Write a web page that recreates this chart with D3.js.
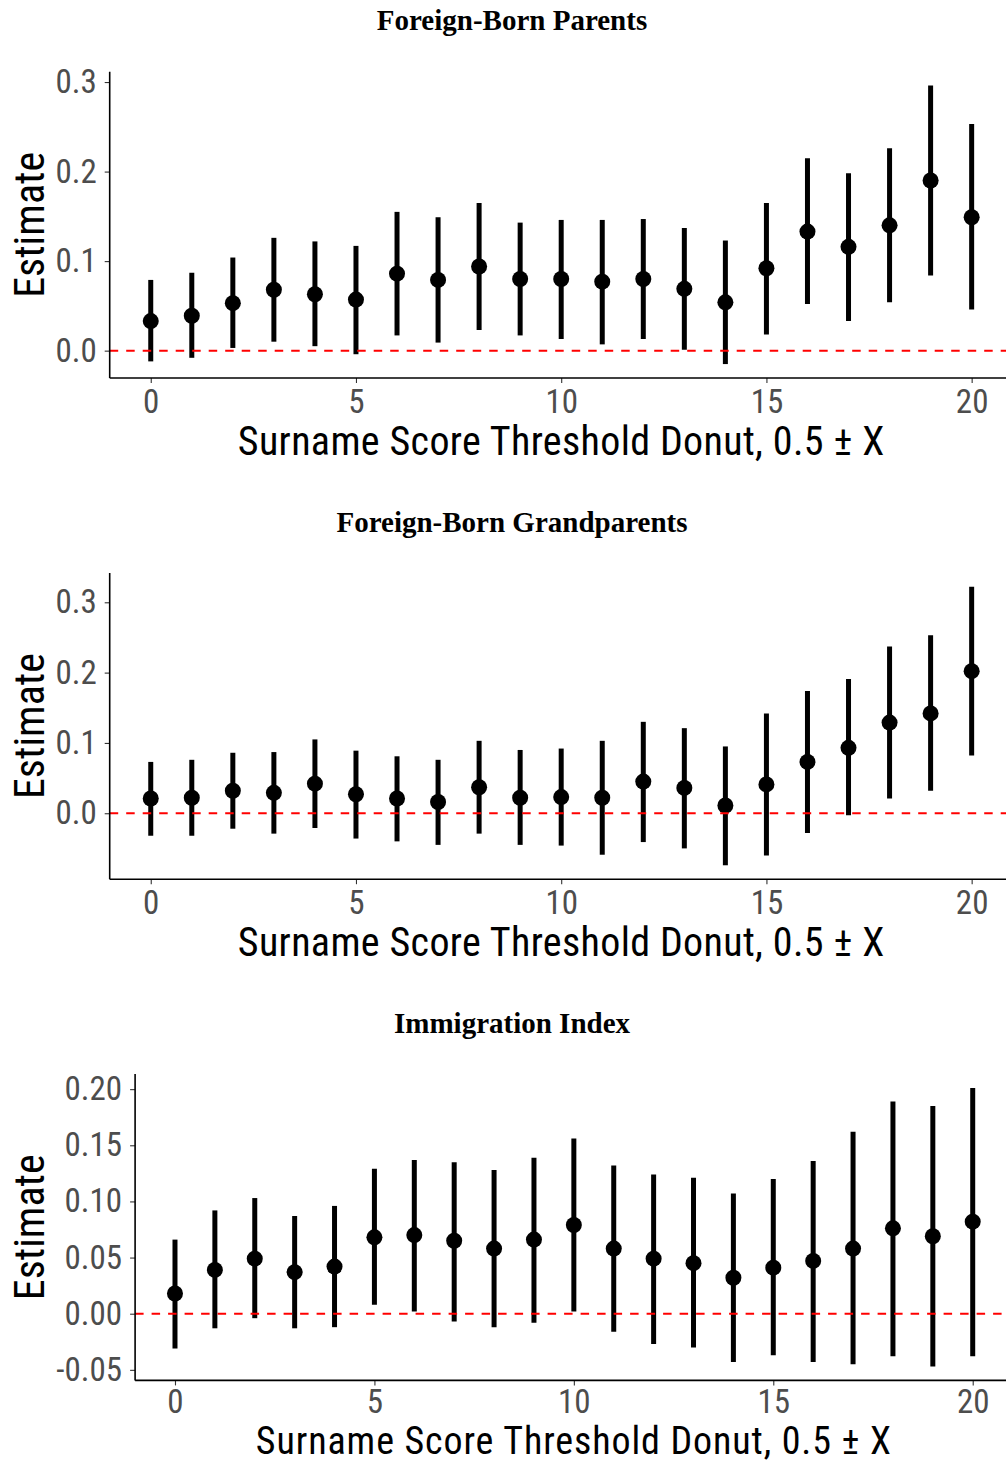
<!DOCTYPE html>
<html><head><meta charset="utf-8">
<script src="https://cdn.jsdelivr.net/npm/d3@7"></script>
<style>
body{margin:0;background:#fff;}
svg{display:block;}
</style></head><body>
<script>
// ---------------- DATA ----------------
const thresholds = [0,1,2,3,4,5,6,7,8,9,10,11,12,13,14,15,16,17,18,19,20];

const titles = ["Foreign-Born Parents", "Foreign-Born Grandparents", "Immigration Index"];

const parentsEst = [0.033,0.039,0.053,0.068,0.063,0.057,0.086,0.079,0.094,0.080,0.080,0.077,0.080,0.069,0.054,0.092,0.133,0.116,0.140,0.190,0.149];
const parentsLo  = [-0.012,-0.008,0.003,0.010,0.005,-0.004,0.017,0.009,0.023,0.017,0.013,0.007,0.013,0.001,-0.015,0.018,0.052,0.033,0.054,0.084,0.046];
const parentsHi  = [0.079,0.087,0.104,0.126,0.122,0.117,0.155,0.149,0.165,0.143,0.146,0.146,0.147,0.137,0.123,0.165,0.215,0.198,0.226,0.296,0.253];

const grandEst = [0.021,0.022,0.032,0.029,0.042,0.027,0.021,0.016,0.037,0.022,0.023,0.022,0.045,0.036,0.011,0.041,0.073,0.093,0.129,0.142,0.202];
const grandLo  = [-0.032,-0.032,-0.022,-0.029,-0.021,-0.036,-0.040,-0.045,-0.029,-0.045,-0.046,-0.059,-0.041,-0.050,-0.074,-0.060,-0.028,-0.003,0.021,0.032,0.082];
const grandHi  = [0.073,0.076,0.086,0.087,0.105,0.089,0.081,0.076,0.103,0.090,0.092,0.103,0.130,0.121,0.095,0.142,0.174,0.191,0.237,0.253,0.322];

const indexEst = [0.018,0.039,0.049,0.037,0.042,0.068,0.070,0.065,0.058,0.066,0.079,0.058,0.049,0.045,0.032,0.041,0.047,0.058,0.076,0.069,0.082];
const indexLo  = [-0.031,-0.013,-0.004,-0.013,-0.012,0.008,0.002,-0.007,-0.012,-0.008,0.002,-0.016,-0.027,-0.030,-0.043,-0.037,-0.043,-0.045,-0.038,-0.047,-0.038];
const indexHi  = [0.066,0.092,0.103,0.087,0.096,0.129,0.137,0.135,0.128,0.139,0.156,0.132,0.124,0.121,0.107,0.120,0.136,0.162,0.189,0.185,0.201];

const xTickValues = [0,5,10,15,20];
const yTicksParents = [0.0,0.1,0.2,0.3];
const yTicksGrand = [0.0,0.1,0.2,0.3];
const yTicksIndex = [-0.05,0.00,0.05,0.10,0.15,0.20];

const xTitle = "Surname Score Threshold Donut, 0.5 ± X";
const yTitle = "Estimate";

// ---------------- DRAW ----------------
const W = 1006, H = 1465;
const svg = d3.select("body").append("svg").attr("width", W).attr("height", H);

const panels = [
  {title: titles[0], est: parentsEst, lo: parentsLo, hi: parentsHi, ticks: yTicksParents, digits: 1, axisX: 109.7, right: 1012.7,
   xPad: 6, xTitleDy: 63, xTitleSize: 40, xTitleLs: 0.35},
  {title: titles[1], est: grandEst, lo: grandLo, hi: grandHi, ticks: yTicksGrand, digits: 1, axisX: 109.7, right: 1012.7,
   xPad: 6, xTitleDy: 63, xTitleSize: 40, xTitleLs: 0.35},
  {title: titles[2], est: indexEst, lo: indexLo, hi: indexHi, ticks: yTicksIndex, digits: 2, axisX: 135.1, right: 1012.6,
   xPad: 4, xTitleDy: 60.5, xTitleSize: 38, xTitleLs: 0.9}
];

const axisFont = "Roboto, 'Liberation Sans', sans-serif";

panels.forEach((p, i) => {
  const top = 71.7 + i * 501.2;
  const bottom = top + 306.3;
  const g = svg.append("g");

  const x = d3.scaleLinear().domain([-1, 21]).range([p.axisX, p.right]);
  const lo = d3.min(p.lo), hi = d3.max(p.hi);
  const pad = (hi - lo) * 0.05;
  const y = d3.scaleLinear().domain([lo - pad, hi + pad]).range([bottom, top]);

  // title
  g.append("text")
    .attr("x", 512).attr("y", 20 + i * 501.4)
    .attr("dy", "0.35em")
    .attr("text-anchor", "middle")
    .style("font-family", "'Liberation Serif', 'DejaVu Serif', serif")
    .style("font-weight", "bold")
    .style("font-size", "29px")
    .text(p.title);

  // error bars
  g.append("g").selectAll("line").data(thresholds).join("line")
    .attr("x1", d => x(d)).attr("x2", d => x(d))
    .attr("y1", (d, k) => y(p.lo[k])).attr("y2", (d, k) => y(p.hi[k]))
    .attr("stroke", "#000").attr("stroke-width", 5);

  // points
  g.append("g").selectAll("circle").data(thresholds).join("circle")
    .attr("cx", d => x(d)).attr("cy", (d, k) => y(p.est[k]))
    .attr("r", 8).attr("fill", "#000");

  // zero line
  g.append("line")
    .attr("x1", p.axisX).attr("x2", W)
    .attr("y1", y(0)).attr("y2", y(0))
    .attr("stroke", "#ff0000").attr("stroke-width", 2)
    .attr("stroke-dasharray", "8.5,8");

  // axes
  const yAxis = d3.axisLeft(y).tickValues(p.ticks).tickFormat(d => d.toFixed(p.digits)).tickSize(5).tickPadding(8);
  const ya = g.append("g").attr("transform", `translate(${p.axisX},0)`).call(yAxis);
  const xAxis = d3.axisBottom(x).tickValues(xTickValues).tickFormat(d => String(d)).tickSize(5).tickPadding(p.xPad);
  const xa = g.append("g").attr("transform", `translate(0,${bottom})`).call(xAxis);
  [ya, xa].forEach(a => {
    a.select(".domain").remove();
    a.selectAll(".tick line").attr("stroke", "#333").attr("stroke-width", 1.1);
    a.selectAll(".tick text").attr("fill", "#4d4d4d")
      .style("font-family", axisFont).style("font-size", "33px").style("font-stretch", "condensed");
  });
  xa.selectAll(".tick text").attr("dy", "0.72em");
  g.append("line").attr("x1", p.axisX).attr("x2", p.axisX).attr("y1", top).attr("y2", bottom)
    .attr("stroke", "#000").attr("stroke-width", 1.6);
  g.append("line").attr("x1", p.axisX).attr("x2", W).attr("y1", bottom).attr("y2", bottom)
    .attr("stroke", "#000").attr("stroke-width", 1.6);

  // axis titles
  g.append("text")
    .attr("x", (p.axisX + p.right) / 2).attr("y", bottom + p.xTitleDy)
    .attr("dy", "0.35em").attr("text-anchor", "middle")
    .style("font-family", axisFont).style("font-size", p.xTitleSize + "px").style("letter-spacing", p.xTitleLs + "px")
    .style("font-stretch", "condensed")
    .text(xTitle);
  g.append("text")
    .attr("transform", `translate(29,${(top + bottom) / 2}) rotate(-90)`)
    .attr("dy", "0.35em").attr("text-anchor", "middle")
    .style("font-family", axisFont).style("font-size", "42px").style("font-stretch", "condensed")
    .text(yTitle);
});
</script>
</body></html>
